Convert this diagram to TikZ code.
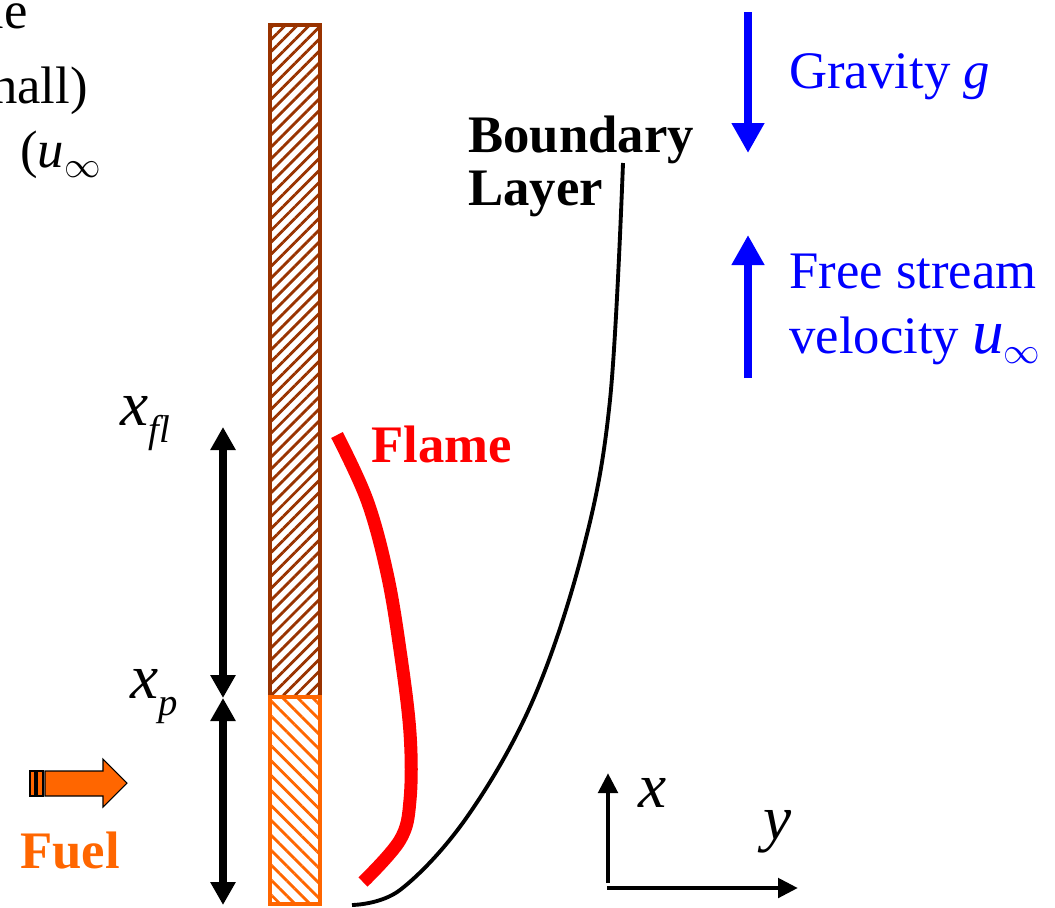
\documentclass[tikz,border=0pt]{standalone}
\usepackage{fontspec}
\setmainfont{Liberation Serif}
\usetikzlibrary{arrows.meta,patterns.meta}
\definecolor{wallbrown}{RGB}{153,51,0}
\definecolor{fuelorange}{RGB}{255,102,0}
\newcommand{\lowidx}[1]{\raisebox{-10pt}{\fontsize{22}{22}\selectfont\itshape #1}}

\begin{document}
\begin{tikzpicture}[x=0.02cm, y=-0.02cm,
    txt/.style={font=\fontsize{30}{34}\selectfont, inner sep=0pt, anchor=base west},
    bold/.style={txt, font=\fontsize{30}{34}\selectfont\bfseries},
    sym/.style={font=\fontsize{36}{40}\selectfont\itshape, inner sep=0pt, anchor=base west},
    dimarrow/.style={{Triangle[width=0.48cm,length=0.46cm]}-{Triangle[width=0.48cm,length=0.46cm]}, line width=4pt},
    bluearrow/.style={-{Triangle[width=0.62cm,length=0.6cm]}, blue, line width=5pt},
    axis/.style={-{Triangle[width=0.38cm,length=0.4cm]}, line width=2.8pt}]
    \useasboundingbox (0,0) rectangle (1055,907);

    % cut-off text at the left edge
    \node[txt, anchor=base east] (frag1) at (28,28) {ne};
    \node[txt, anchor=base east] (frag2) at (88,103) {nall)};
    \node[txt] (frag3) at (20,167) {(\textit{u}\raisebox{-6pt}{\fontsize{22}{22}\selectfont$\infty$}};

    % Wall: pyrolysing part and burning part
    \draw[wallbrown, line width=2.8pt, pattern={Lines[angle=45,distance=4.8pt,line width=1.6pt]}, pattern color=wallbrown]
        (270,25) rectangle (320,697);
    \draw[fuelorange, line width=2.8pt, pattern={Lines[angle=-45,distance=6pt,line width=1.6pt]}, pattern color=fuelorange]
        (270,697) rectangle (320,904);

    % lengths along the wall
    \coordinate (fltop) at (223,427);
    \coordinate (ptop) at (223,698);
    \coordinate (wallbase) at (223,905);
    \draw[dimarrow] (fltop) -- (ptop);
    \draw[dimarrow] (ptop) -- (wallbase);
    \node[sym] (xfl) at (120,425) {x\lowidx{fl}};
    \node[sym] (xp) at (130,698) {x\lowidx{p}};

    % Fuel arrow
    \fill[fuelorange, draw=black, line width=0.6pt] (30,771) rectangle (35,796);
    \fill[fuelorange, draw=black, line width=0.6pt] (37,771) rectangle (43,796);
    \fill[fuelorange, draw=black, line width=0.6pt]
        (45,771) -- (103,771) -- (103,759) -- (127,783) -- (103,807) -- (103,796) -- (45,796) -- cycle;
    \node[bold, text=fuelorange] (fuel) at (20,868) {Fuel};

    % Flame
    \draw[red, line width=7.4pt] plot[smooth, tension=0.6] coordinates
        {(337,435) (367,500) (387,573) (400,650) (410,733) (410,800) (400,840) (363,882)};
    \node[bold, text=red] (flame) at (371,462) {Flame};

    % Boundary layer edge
    \draw[line width=2.2pt] plot[smooth, tension=0.6] coordinates
        {(352,905) (400,890) (467,817) (533,700) (583,550) (610,400) (623,163)};
    \node[bold] (bl1) at (468,152) {Boundary};
    \node[bold] (bl2) at (468,205) {Layer};

    % Gravity and free stream
    \coordinate (gtop) at (748,12);
    \coordinate (gtip) at (748,153);
    \coordinate (ubot) at (748,378);
    \coordinate (utip) at (748,235);
    \draw[bluearrow] (gtop) -- (gtip);
    \draw[bluearrow] (ubot) -- (utip);
    \node[txt, text=blue] (grav) at (789,88) {Gravity \textit{g}};
    \node[txt, text=blue] (fs1) at (789,288) {Free stream};
    \node[txt, text=blue] (fs2) at (789,353) {velocity {\fontsize{36}{40}\selectfont\textit{u}}\raisebox{-6pt}{\fontsize{22}{22}\selectfont$\infty$}};

    % coordinate axes
    \coordinate (xbase) at (608,883);
    \coordinate (xtip) at (608,773);
    \coordinate (ybase) at (607,888);
    \coordinate (ytip) at (798,888);
    \draw[axis] (xbase) -- (xtip);
    \draw[axis] (ybase) -- (ytip);
    \node[sym] (xlab) at (638,807) {x};
    \node[sym] (ylab) at (763,839) {y};
\end{tikzpicture}
\end{document}
